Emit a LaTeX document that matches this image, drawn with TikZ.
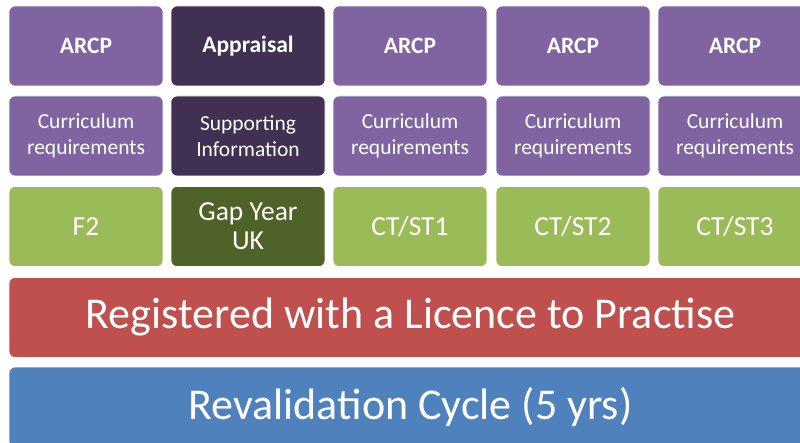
\documentclass[tikz,border=0pt]{standalone}
\usepackage{fontspec}
\setmainfont{Carlito}
\definecolor{purp}{HTML}{8064A2}
\definecolor{dpurp}{HTML}{403152}
\definecolor{grn}{HTML}{9BBB59}
\definecolor{dgrn}{HTML}{4F6228}
\definecolor{redb}{HTML}{C0504D}
\definecolor{blueb}{HTML}{4F81BD}
\tikzset{
  tile/.style={rounded corners=6pt, minimum width=154pt, minimum height=80pt, inner sep=0pt, text=white, align=center, draw=white, line width=0.6pt},
  toprow/.style={tile, font=\fontsize{23.5}{26}\selectfont\bfseries},
  midrow/.style={tile, font=\fontsize{21.5}{25.5}\selectfont},
  lowrow/.style={tile, font=\fontsize{27.5}{29}\selectfont},
  bar/.style={rounded corners=6pt, minimum width=803pt, minimum height=80pt, inner sep=0pt, text=white, draw=white, line width=0.6pt, font=\fontsize{44}{48}\selectfont}
}
\begin{document}
\begin{tikzpicture}[x=1pt,y=-1pt]
\useasboundingbox (0,0) rectangle (800,443);
\clip (0,0) rectangle (800,443);
% row 1
\node[toprow, fill=purp]  (a1) at (86,46)  {ARCP};
\node[toprow, fill=dpurp] (a2) at (248,46) {Appraisal};
\node[toprow, fill=purp]  (a3) at (410,46) {ARCP};
\node[toprow, fill=purp]  (a4) at (573,46) {ARCP};
\node[toprow, fill=purp]  (a5) at (735,46) {ARCP};
% row 2
\node[midrow, fill=purp]  (b1) at (86,136)  {Curriculum\\requirements};
\node[midrow, fill=dpurp] (b2) at (248,136) {Supporting\\Information};
\node[midrow, fill=purp]  (b3) at (410,136) {Curriculum\\requirements};
\node[midrow, fill=purp]  (b4) at (573,136) {Curriculum\\requirements};
\node[midrow, fill=purp]  (b5) at (735,136) {Curriculum\\requirements};
% row 3
\node[lowrow, fill=grn]  (c1) at (86,226.5)  {F2};
\node[lowrow, fill=dgrn] (c2) at (248,226.5) {Gap Year\\UK};
\node[lowrow, fill=grn]  (c3) at (410,226.5) {CT/ST1};
\node[lowrow, fill=grn]  (c4) at (573,226.5) {CT/ST2};
\node[lowrow, fill=grn]  (c5) at (735,226.5) {CT/ST3};
% bars
\node[bar, fill=redb]  (reg) at (410.5,317.5) {Registered with a Licence to Practise};
\node[bar, fill=blueb] (rev) at (410.5,407)   {Revalidation Cycle (5 yrs)};
\end{tikzpicture}
\end{document}
